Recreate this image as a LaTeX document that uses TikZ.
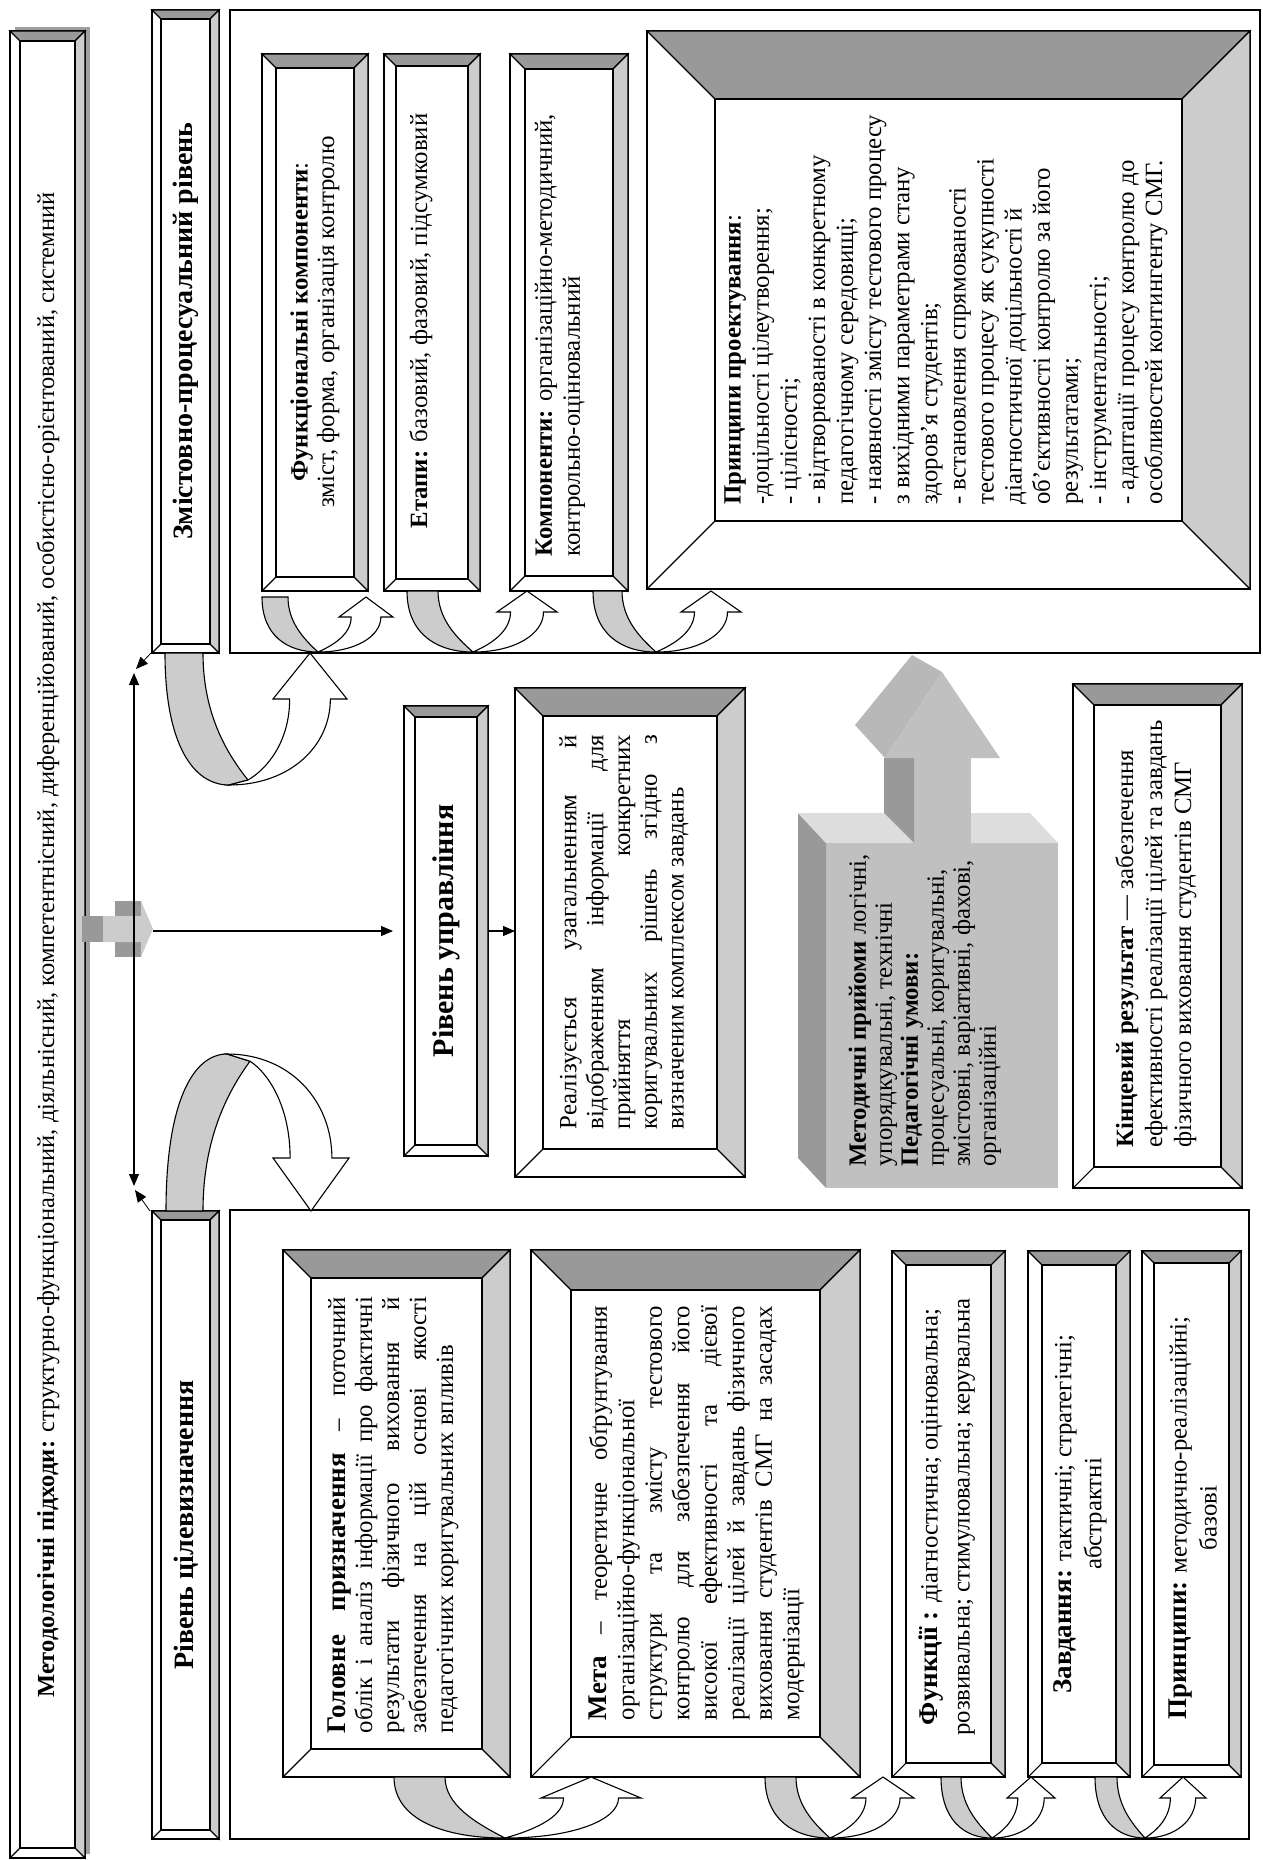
\documentclass[tikz,border=0pt]{standalone}
\usepackage{fontspec}
\setmainfont{Liberation Serif}
\usetikzlibrary{arrows.meta}
\definecolor{bevdark}{HTML}{999999}
\definecolor{bevlight}{HTML}{CCCCCC}
\definecolor{blockfront}{HTML}{C0C0C0}
\definecolor{blocktop}{HTML}{DDDDDD}
\definecolor{blockhead}{HTML}{B8B8B8}
\tikzset{txt/.style = {rotate=90, inner sep=0, font=\fontsize{24.8}{#1}\selectfont},
  txt/.default = 27,
  ttl/.style = {rotate=90, inner sep=0, font=\fontsize{28}{32}\selectfont\bfseries},
  arr/.style = {-{Triangle[length=12pt,width=10pt]}},
  arrboth/.style = {{Triangle[length=12pt,width=10pt]}-{Triangle[length=12pt,width=10pt]}}}
\newcommand{\bighead}[1]{{\fontsize{27}{27}\selectfont\bfseries #1}}
\newcommand{\bevelbox}[5]{%
  \filldraw[fill=white] (#1,#2) rectangle (#3,#4);
  \filldraw[fill=bevdark] (#1,#2) -- (#3,#2) -- ({#3-#5},{#2+#5}) -- ({#1+#5},{#2+#5}) -- cycle;
  \filldraw[fill=bevlight] (#3,#2) -- (#3,#4) -- ({#3-#5},{#4-#5}) -- ({#3-#5},{#2+#5}) -- cycle;
  \draw ({#1+#5},{#2+#5}) rectangle ({#3-#5},{#4-#5});
  \draw (#1,#4) -- ({#1+#5},{#4-#5});}
\newcommand{\uarrow}[9]{%
  \filldraw[fill=bevlight] (#1,#6)
    .. controls (#1,{#6+0.7*(#7-#6)}) and ({#1+0.45*(#3-#1)},#7) .. (#3,#7)
    -- ({#3+#4},{#7-#4*(#7-#6)/500})
    .. controls ({#2+0.5*(#3+#4-#2)},{#7-0.25*(#7-#6)}) and (#2,{#6+0.45*(#7-#6)}) .. (#2,#6) -- cycle;
  \filldraw[fill=white] (#3,#7)
    .. controls ({#3+0.6*(#5+0.55*#9-#3)},#7) and ({#5+0.55*#9},{#7-0.45*(#7-#8)}) .. ({#5+0.55*#9},#8)
    -- ({#5+#9},#8) -- (#5,#6) -- ({#5-#9},#8) -- ({#5-0.55*#9},#8)
    .. controls ({#5-0.55*#9},{#8+0.5*(#7-#8)}) and ({#3+#4+0.45*(#5-0.55*#9-#3-#4)},{#7-0.12*(#7-#6)}) .. ({#3+#4},{#7-#4*(#7-#6)/500}) -- cycle;}

\begin{document}
\begin{tikzpicture}[x=1pt, y=-1pt, line width=1.1pt]
  \useasboundingbox (0,0) rectangle (1262,1860);

  \fill[gray!75] (15,27) rectangle (90,1854);
  \bevelbox{10}{31}{85}{1858}{10}
  \node[txt, font=\fontsize{24.5}{27}\selectfont] (methods) at (48,945) {\textbf{Методологічні підходи:} структурно-функціональний, діяльнісний, компетентнісний, диференційований, особистісно-орієнтований, системний};

  \draw (230,10) rectangle (1260,653);
  \draw (230,1210) rectangle (1249,1839);

  \bevelbox{152}{10}{219}{653}{9}
  \node[ttl] (zmist) at (186,331) {Змістовно-процесуальний рівень};
  \bevelbox{262}{54}{368}{591}{14}
  \node[txt=26.5, align=center] (funk) at (315,322) {\textbf{Функціональні компоненти}:\\ зміст, форма, організація контролю};
  \bevelbox{384}{54}{480}{591}{12}
  \node[txt] (etapy) at (421,321) {\textbf{Етапи:} базовий, фазовий, підсумковий};
  \bevelbox{510}{54}{628}{591}{15}
  \node[txt=28, align=left, anchor=west] (komp) at (560,557) {\textbf{Компоненти:} організаційно-методичний,\\ контрольно-оцінювальний};
  \bevelbox{647}{31}{1250}{589}{68}
  \node[txt=28.1, align=left, anchor=west] (proekt) at (946,505) {\textbf{Принципи проектування}:\\
    -доцільності цілеутворення;\\ - цілісності;\\ - відтворюваності в конкретному\\ педагогічному середовищі;\\
    - наявності змісту тестового процесу\\ з вихідними параметрами стану\\ здоров’я студентів;\\
    - встановлення спрямованості\\ тестового процесу як сукупності\\ діагностичної доцільності й\\
    об’єктивності контролю за його\\ результатами;\\ - інструментальності;\\
    - адаптації процесу контролю до\\ особливостей контингенту СМГ.};

  \uarrow{262}{288}{318}{0}{366}{597}{652}{617}{27}
  \uarrow{407}{438}{473}{0}{527}{591}{652}{612}{30}
  \uarrow{593}{622}{656}{0}{711}{591}{652}{612}{30}
  \uarrow{165}{203}{229}{19}{310}{653}{785}{699}{37}

  \bevelbox{404}{706}{488}{1156}{11}
  \node[ttl, font=\fontsize{30}{34}\selectfont\bfseries] (upr) at (446,931) {Рівень управління};
  \bevelbox{515}{688}{745}{1177}{28}
  \node[txt=26.8, text width=394, align=justify] (realiz) at (624,932) {Реалізується узагальненням й\linebreak
    відображенням інформації для\linebreak прийняття конкретних\linebreak
    коригувальних рішень згідно з\linebreak визначеним комплексом завдань};

  \fill[blockfront] (826,843) rectangle (1058,1188);
  \fill[bevdark] (798,813) -- (826,843) -- (826,1188) -- (798,1158) -- cycle;
  \fill[blocktop] (798,813) -- (884,813) -- (914,843) -- (826,843) -- cycle;
  \fill[blocktop] (971,813) -- (1030,813) -- (1058,843) -- (971,843) -- cycle;
  \fill[blockfront] (914,758) rectangle (971,843);
  \fill[bevdark] (884,758) -- (914,758) -- (914,843) -- (884,813) -- cycle;
  \fill[blockhead] (855,725) -- (912,655) -- (942,672) -- (885,758) -- cycle;
  \fill[blockfront] (885,758) -- (1000,758) -- (942,672) -- cycle;
  \node[txt=26, align=left, anchor=west] (metod) at (925,1167) {\textbf{Методичні прийоми} логічні,\\
    упорядкувальні, технічні\\ \textbf{Педагогічні умови:}\\ процесуальні, коригувальні,\\
    змістовні, варіативні, фахові,\\ організаційні};

  \bevelbox{1073}{684}{1242}{1188}{21}
  \node[txt=29, align=left, anchor=west] (result) at (1156,1148) {\textbf{Кінцевий результат} — забезпечення\\
    ефективності реалізації цілей та завдань\\ фізичного виховання студентів СМГ};

  \bevelbox{152}{1211}{219}{1839}{9}
  \node[ttl] (tsil) at (186,1525) {Рівень цілевизначення};
  \uarrow{166}{203}{227}{23}{311}{1211}{1054}{1158}{38}
  \bevelbox{283}{1250}{510}{1777}{28}
  \node[txt=27, text width=436, align=justify] (golovne) at (393,1515) {\bighead{Головне призначення} – поточний\linebreak
    облік і аналіз інформації про фактичні\linebreak результати фізичного виховання й\linebreak
    забезпечення на цій основі якості\linebreak педагогічних коригувальних впливів};
  \bevelbox{531}{1250}{860}{1777}{40}
  \node[txt=27.5, text width=414, align=justify] (meta) at (697,1513) {\bighead{Мета} – теоретичне обґрунтування\linebreak
    організаційно-функціональної\\ структури та змісту тестового\linebreak контролю для забезпечення його\linebreak
    високої ефективності та дієвої\linebreak реалізації цілей й завдань фізичного\linebreak
    виховання студентів СМГ на засадах\linebreak модернізації};
  \bevelbox{892}{1251}{1005}{1777}{14}
  \node[txt=32, align=center] (funktsii) at (947,1517) {\bighead{Функції :} діагностична; оцінювальна;\\ розвивальна; стимулювальна; керувальна};
  \bevelbox{1028}{1251}{1130}{1777}{14}
  \node[txt=30, align=center] (zavd) at (1080,1514) {\bighead{Завдання:} тактичні; стратегічні;\\ абстрактні};
  \bevelbox{1142}{1251}{1241}{1777}{12}
  \node[txt=30, align=center] (pryntsypy) at (1193,1518) {\bighead{Принципи:} методично-реалізаційні;\\ базові};

  \uarrow{394}{445}{505}{0}{591}{1777}{1838}{1798}{50}
  \uarrow{765}{796}{830}{0}{883}{1777}{1838}{1798}{31}
  \uarrow{941}{961}{992}{0}{1031}{1777}{1838}{1798}{24}
  \uarrow{1095}{1117}{1145}{0}{1183}{1777}{1838}{1798}{23}

  \fill[bevdark] (82,916) rectangle (103,942);
  \fill[bevdark] (115,901) rectangle (141,916);
  \fill[bevdark] (115,942) rectangle (141,957);
  \fill[bevlight] (103,916) -- (141,916) -- (141,901) -- (153,929) -- (141,957) -- (141,942) -- (103,942) -- cycle;
  \coordinate (src) at (153,931);
  \coordinate (upr-w) at (404,931);
  \coordinate (upr-e) at (488,931);
  \coordinate (realiz-w) at (515,931);
  \draw[arr, shorten >=11pt] (src) -- (upr-w);
  \draw[arr] (upr-e) -- (realiz-w);

  \coordinate (top-end) at (134,673);
  \coordinate (bot-end) at (134,1186);
  \coordinate (zmist-c) at (151,653);
  \coordinate (top-in) at (136,669);
  \coordinate (tsil-c) at (150,1211);
  \coordinate (bot-in) at (135,1190);
  \draw[arrboth] (top-end) -- (bot-end);
  \draw[arr, line width=0.8pt] (zmist-c) -- (top-in);
  \draw[arr, line width=0.8pt] (tsil-c) -- (bot-in);
\end{tikzpicture}
\end{document}
